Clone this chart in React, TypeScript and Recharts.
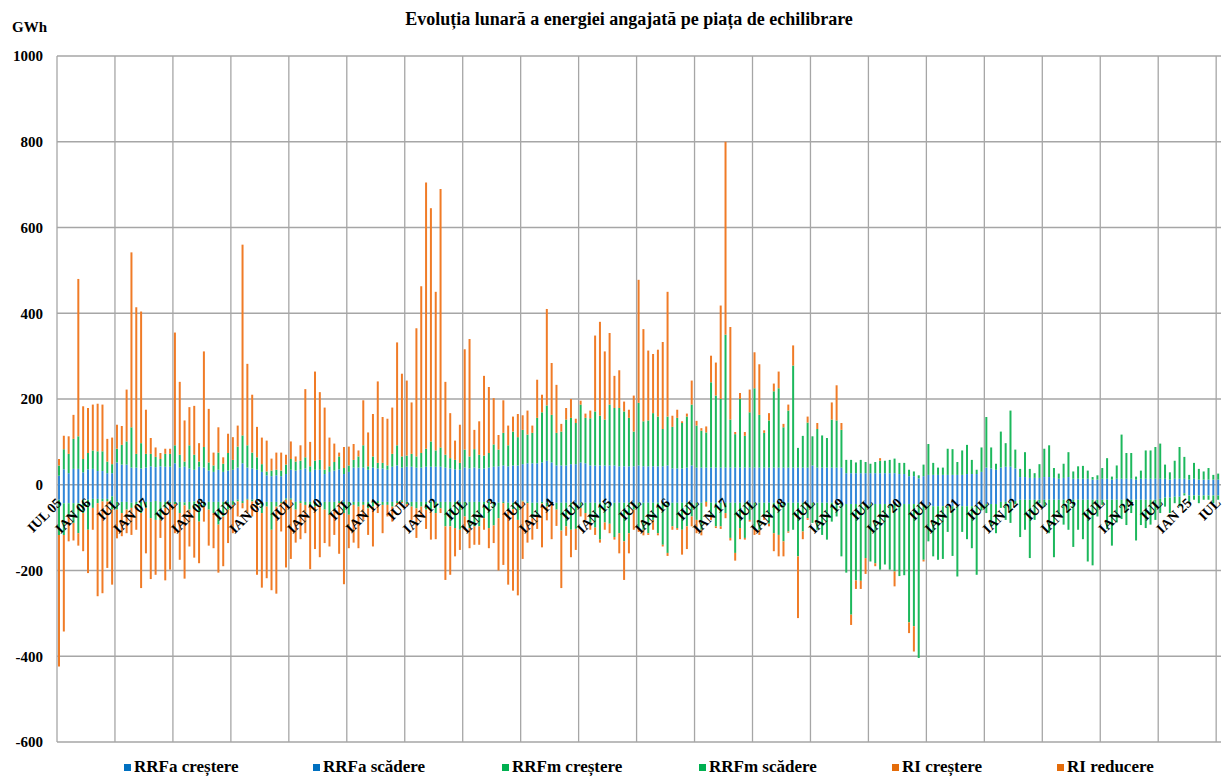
import { BarChart, Bar, XAxis, YAxis, CartesianGrid } from 'recharts';

// lunar, iul 2005 - iul 2025 (241 luni); o eticheta la 6 luni
const tickLabels = [
  'IUL 05', 'IAN 06', 'IUL', 'IAN 07', 'IUL', 'IAN 08', 'IUL', 'IAN 09', 'IUL', 'IAN 10', 'IUL',
  'IAN 11', 'IUL', 'IAN 12', 'IUL', 'IAN 13', 'IUL', 'IAN 14', 'IUL', 'IAN 15', 'IUL', 'IAN 16',
  'IUL', 'IAN 17', 'IUL', 'IAN 18', 'IUL', 'IAN 19', 'IUL', 'IAN 20', 'IUL', 'IAN 21', 'IUL',
  'IAN 22', 'IUL', 'IAN 23', 'IUL', 'IAN 24', 'IUL', 'IAN 25', 'IUL',
];

const yTicks = [-600, -400, -200, 0, 200, 400, 600, 800, 1000];

// GWh
const rrfaCrestere = [
  21, 36, 27, 37, 37, 29, 36, 37, 32, 32, 27, 27, 52, 47, 47, 40, 40, 38, 40, 43, 41, 43, 42, 42, 50, 40, 42, 38, 35, 42, 40,
  33, 30, 35, 30, 33, 35, 40, 50, 40, 38, 35, 30, 22, 20, 22, 20, 25, 35, 33, 35, 38, 30, 35, 35, 25, 30, 33, 36, 25, 30,
  40, 40, 40, 35, 40, 38, 38, 35, 42, 45, 40, 42, 42, 40, 40, 42, 42, 42, 42, 40, 38, 36, 35, 40, 38, 40, 38, 38, 40, 42,
  43, 45, 43, 45, 45, 48, 50, 50, 50, 52, 56, 52, 45, 45, 45, 48, 48, 52, 50, 45, 45, 45, 45, 45, 45, 43, 43, 43, 43, 45,
  43, 43, 43, 43, 43, 45, 38, 38, 38, 40, 45, 40, 40, 40, 40, 40, 40, 40, 40, 40, 40, 40, 40, 40, 40, 40, 40, 40, 40, 40,
  40, 40, 40, 40, 40, 45, 40, 40, 40, 40, 40, 40, 27, 27, 27, 27, 27, 27, 27, 27, 27, 27, 27, 25, 25, 20, 20, 15, 20, 23,
  23, 23, 23, 23, 23, 23, 23, 25, 25, 25, 30, 40, 38, 35, 40, 42, 42, 38, 18, 18, 16, 16, 16, 18, 18, 16, 14, 16, 18, 14,
  14, 14, 14, 12, 12, 14, 14, 12, 14, 14, 14, 14, 12, 14, 14, 14, 14, 14, 14, 12, 14, 14, 14, 12, 14, 12, 12, 12, 12, 12,
];

const rrfmCrestere = [
  24, 47, 45, 70, 76, 31, 38, 43, 46, 46, 27, 21, 32, 46, 54, 94, 32, 59, 32, 29, 24, 17, 30, 30, 42, 30, 12, 54, 35, 12, 48,
  19, 15, 40, 19, 41, 23, 49, 65, 52, 37, 29, 18, 9, 13, 13, 13, 22, 25, 21, 21, 26, 13, 21, 23, 10, 13, 20, 30, 14, 15,
  18, 26, 52, 8, 26, 13, 13, 10, 30, 47, 26, 26, 30, 26, 34, 42, 59, 38, 45, 30, 24, 22, 16, 42, 28, 43, 32, 30, 34, 52,
  39, 76, 49, 79, 66, 80, 67, 71, 106, 117, 129, 111, 76, 79, 107, 108, 96, 135, 106, 110, 126, 116, 107, 142, 134, 136, 128, 113, 81, 146,
  105, 107, 124, 116, 87, 114, 97, 118, 106, 119, 142, 98, 86, 82, 199, 168, 160, 310, 112, 78, 160, 74, 129, 185, 123, 81, 110, 178, 185, 94,
  133, 238, 46, 74, 105, 68, 90, 75, 69, 112, 110, 88, 31, 31, 25, 31, 26, 22, 26, 29, 29, 31, 34, 26, 26, 15, 11, 7, 27, 72,
  28, 17, 17, 61, 60, 30, 57, 68, 33, 10, 57, 118, 49, 14, 84, 55, 131, 44, 19, 58, 21, 11, 32, 66, 74, 23, 12, 33, 58, 17,
  29, 30, 19, 6, 10, 25, 48, 7, 31, 103, 60, 60, 7, 19, 66, 66, 74, 82, 33, 17, 42, 74, 51, 11, 37, 25, 19, 27, 11, 14,
];

const riCrestere = [
  15, 31, 41, 56, 367, 123, 105, 107, 111, 109, 53, 62, 56, 44, 121, 408, 342, 307, 103, 37, 22, 14, 12, 12, 263, 170, 96, 89, 114, 43, 223,
  125, 30, 59, 15, 45, 53, 49, 445, 190, 135, 71, 62, 72, 28, 40, 42, 23, 41, 12, 36, 159, 57, 208, 158, 145, 67, 43, 9, 49, 44,
  37, 14, 105, 79, 99, 190, 107, 109, 108, 240, 193, 175, 120, 299, 389, 621, 544, 370, 603, 170, 105, 45, 89, 234, 274, 45, 78, 186, 154, 108,
  34, 76, 46, 35, 54, 34, 56, 17, 89, 41, 225, 121, 112, 18, 27, 44, 10, 9, 10, 18, 177, 219, 159, 167, 75, 88, 23, 19, 84, 287,
  215, 163, 138, 156, 203, 291, 26, 19, 4, 7, 56, 11, 6, 14, 62, 77, 218, 450, 216, 5, 14, 9, 53, 84, 118, 6, 17, 18, 39, 8,
  14, 47, 0, 0, 14, 0, 14, 0, 0, 40, 82, 16, 0, 0, 0, 0, 0, 0, 0, 6, 0, 0, 0, 0, 0, 0, 0, 0, 0, 0,
  0, 0, 0, 0, 0, 0, 0, 0, 0, 0, 0, 0, 0, 0, 0, 0, 0, 0, 0, 0, 0, 0, 0, 0, 0, 0, 0, 0, 0, 0,
  0, 0, 0, 0, 0, 0, 0, 0, 0, 0, 0, 0, 0, 0, 0, 0, 0, 0, 0, 0, 0, 0, 0, 0, 0, 0, 0, 0, 0, 0,
];

const rrfaScadere = [
  -35, -43, -43, -43, -43, -35, -35, -33, -33, -33, -33, -27, -40, -40, -40, -42, -40, -40, -40, -40, -38, -40, -40, -40, -40, -40, -41, -40, -39, -40, -40,
  -40, -40, -40, -40, -40, -38, -35, -38, -33, -35, -40, -40, -40, -40, -40, -40, -32, -32, -40, -38, -40, -40, -40, -40, -40, -40, -40, -38, -40, -40,
  -40, -40, -40, -40, -40, -38, -40, -40, -40, -38, -36, -40, -40, -40, -40, -40, -40, -40, -40, -40, -40, -40, -40, -40, -40, -40, -40, -40, -40, -40,
  -42, -40, -42, -42, -42, -37, -40, -42, -42, -40, -42, -40, -42, -42, -42, -42, -42, -42, -42, -42, -42, -42, -42, -42, -42, -42, -42, -42, -42, -42,
  -42, -42, -42, -42, -42, -42, -42, -42, -42, -42, -42, -42, -42, -38, -42, -42, -42, -42, -42, -42, -42, -42, -42, -42, -42, -42, -42, -42, -42, -42,
  -42, -42, -42, -42, -42, -42, -42, -42, -42, -42, -42, -42, -45, -45, -45, -45, -45, -45, -45, -45, -45, -45, -45, -45, -45, -45, -45, -45, -45, -48,
  -50, -50, -50, -50, -50, -50, -50, -50, -50, -50, -45, -45, -45, -45, -40, -40, -40, -38, -35, -35, -35, -35, -35, -35, -35, -35, -35, -35, -35, -35,
  -35, -35, -35, -35, -35, -35, -35, -35, -35, -35, -35, -35, -35, -35, -35, -35, -35, -33, -30, -30, -28, -28, -20, -25, -25, -25, -25, -25, -25, -25,
];

const rrfmScadere = [
  -82, -74, -31, -46, -70, -31, -70, -21, -10, -6, -6, -31, -18, -26, -18, -12, -7, -26, -14, -38, -44, -42, -14, -3, -5, -26, -7, -18, -18, -46, -11,
  -18, -26, -53, -34, -18, -9, -4, -5, -2, -4, -7, -26, -11, -65, -11, -3, -3, -3, -18, -5, -7, -11, -11, -7, -18, -30, -22, -5, -26, -30,
  -7, -11, -7, -15, -11, -5, -7, -7, -11, -5, -4, -5, -11, -15, -11, -18, -22, -26, -15, -57, -57, -61, -65, -34, -61, -57, -57, -38, -61, -55,
  -36, -3, -20, -15, -40, -2, -3, -36, -32, -4, -9, -4, -16, -65, -55, -63, -61, -12, -24, -46, -58, -86, -46, -49, -80, -71, -90, -71, -16, -58,
  -63, -71, -40, -71, -98, -117, -55, -59, -63, -55, -32, -40, -63, -2, -32, -55, -55, -24, -82, -117, -59, -82, -40, -63, -63, -32, -49, -71, -75, -90,
  -67, -63, -125, -67, -36, -47, -63, -75, -86, -44, -32, -125, -160, -258, -178, -179, -126, -134, -138, -153, -141, -153, -157, -168, -166, -276, -285, -359, -130, -84,
  -117, -125, -123, -60, -116, -164, -60, -77, -98, -160, -15, -21, -52, -68, -14, -42, -49, -7, -87, -70, -136, -47, -8, -17, -78, -134, -39, -58, -70, -110,
  -70, -92, -144, -153, -39, -12, -68, -107, -53, -45, -59, -31, -95, -59, -66, -58, -47, -33, -21, -36, -15, -23, -5, -14, -10, -18, -10, -10, -18, -10,
];

const riReducere = [
  -307, -225, -58, -41, -29, -89, -101, -51, -217, -214, -155, -175, -67, -54, -55, -63, -58, -175, -106, -142, -128, -42, -169, -155, -68, -109, -171, -86, -113, -97, -35,
  -84, -82, -112, -116, -78, -66, -35, -12, -31, -35, -163, -174, -167, -141, -203, -66, -158, -138, -77, -84, -66, -146, -99, -122, -78, -74, -55, -118, -166, -78,
  -88, -97, -35, -62, -93, -23, -66, -27, -35, -4, -3, -6, -31, -69, -23, -45, -66, -61, -11, -125, -113, -66, -47, -31, -47, -43, -43, -27, -47, -41,
  -122, -144, -171, -190, -176, -134, -92, -50, -29, -102, -32, -83, -38, -134, -22, -64, -49, -20, -17, -17, -17, -7, -17, -22, -6, -47, -90, -47, -47, -10,
  -13, -4, -23, -5, -4, -7, -8, -4, -58, -53, -23, -31, -13, -11, -8, -4, -6, -12, -6, -18, -26, -4, -4, -12, -12, -8, -6, -42, -50, -35,
  -3, 0, -144, -18, -4, 0, 0, 0, 0, 0, 0, 0, 0, -24, -20, -19, -37, 0, -7, 0, 0, 0, -35, 0, 0, -25, -59, 0, -4, 0,
  0, 0, 0, 0, 0, 0, 0, 0, 0, 0, 0, 0, 0, 0, 0, 0, 0, 0, 0, 0, 0, 0, 0, 0, 0, 0, 0, 0, 0, 0,
  0, 0, 0, 0, 0, 0, 0, 0, 0, 0, 0, 0, 0, 0, 0, 0, 0, 0, 0, 0, 0, 0, 0, 0, 0, 0, 0, 0, 0, 0,
];

const BLUE = '#2f86d8';
const GREEN = '#1cb85c';
const ORANGE = '#f07b26';

const series = [
  { key: 'rrfaCrestere', name: 'RRFa creștere', color: BLUE },
  { key: 'rrfmCrestere', name: 'RRFm creștere', color: GREEN },
  { key: 'riCrestere', name: 'RI creștere', color: ORANGE },
  { key: 'rrfaScadere', name: 'RRFa scădere', color: BLUE },
  { key: 'rrfmScadere', name: 'RRFm scădere', color: GREEN },
  { key: 'riReducere', name: 'RI reducere', color: ORANGE },
];

const legendOrder = [
  { name: 'RRFa creștere', color: '#0070c0', left: 124 },
  { name: 'RRFa scădere', color: '#0070c0', left: 313 },
  { name: 'RRFm creștere', color: '#00b050', left: 502 },
  { name: 'RRFm scădere', color: '#00b050', left: 699 },
  { name: 'RI creștere', color: '#e46c0a', left: 892 },
  { name: 'RI reducere', color: '#e46c0a', left: 1057 },
];

const data = rrfaCrestere.map((_, i) => {
  const m = 6 + i;
  return {
    key: `${2005 + Math.floor(m / 12)}-${(m % 12) + 1}`,
    label: i % 6 === 0 ? tickLabels[i / 6] : '',
    rrfaCrestere: rrfaCrestere[i],
    rrfmCrestere: rrfmCrestere[i],
    riCrestere: riCrestere[i],
    rrfaScadere: rrfaScadere[i],
    rrfmScadere: rrfmScadere[i],
    riReducere: riReducere[i],
  };
});

const FONT = '"Liberation Serif", "Times New Roman", serif';
const W = 1222;
const H = 776;
const MARGIN = { top: 56, right: 1, bottom: 33, left: 7 };
const PLOT_H = H - MARGIN.top - MARGIN.bottom - 1;
// etichetele lunilor stau pe linia de zero, ca in Excel
const ZERO_Y = MARGIN.top + (PLOT_H * 1000) / 1600;

// eslint-disable-next-line @typescript-eslint/no-explicit-any
function MonthTick(props: any) {
  const { x, payload } = props;
  const label = data[payload.index]?.label;
  if (!label) return null;
  const tx = x + 3;
  const ty = ZERO_Y + 19;
  return (
    <g transform={`translate(${tx}, ${ty}) rotate(-45)`}>
      <text x={0} y={0} textAnchor="end" fontSize={14} fontWeight="bold" fontFamily={FONT} fill="#000">
        {label}
      </text>
    </g>
  );
}

export default function App() {
  return (
    <div style={{ position: 'absolute', left: 0, top: 0, width: W, height: H, background: '#fff', fontFamily: FONT }}>
      <div
        style={{
          position: 'absolute',
          top: 9,
          left: 0,
          width: 1258,
          textAlign: 'center',
          fontSize: 18,
          fontWeight: 'bold',
        }}
      >
        Evoluția lunară a energiei angajată pe piața de echilibrare
      </div>
      <div style={{ position: 'absolute', top: 19, left: 12, fontSize: 15, fontWeight: 'bold' }}>GWh</div>
      <BarChart
        width={W}
        height={H}
        data={data}
        stackOffset="sign"
        barSize={2}
        margin={MARGIN}
      >
        <CartesianGrid
          stroke="#a6a6a6"
          strokeWidth={1.3}
          // eslint-disable-next-line @typescript-eslint/no-explicit-any
          verticalCoordinatesGenerator={({ offset }: any) =>
            tickLabels
              .filter((_, i) => i % 2 === 0)
              .map((_, i) => offset.left + (i * 12 * offset.width) / data.length)
          }
        />
        <XAxis
          dataKey="key"
          interval={0}
          height={1}
          tickLine={false}
          axisLine={false}
          tick={<MonthTick />}
        />
        <YAxis
          domain={[-600, 1000]}
          ticks={yTicks}
          interval={0}
          width={50}
          tickLine={false}
          axisLine={false}
          tickSize={0}
          tickMargin={14}
          tick={{ fontSize: 15, fontWeight: 'bold', fill: '#000', fontFamily: FONT }}
        />
        {series.map((s) => (
          <Bar
            key={s.key}
            dataKey={s.key}
            name={s.name}
            stackId="s"
            fill={s.color}
            isAnimationActive={false}
          />
        ))}
      </BarChart>
      {legendOrder.map((l) => (
        <div
          key={l.name}
          style={{
            position: 'absolute',
            top: 757,
            left: l.left,
            display: 'flex',
            alignItems: 'center',
            fontSize: 17,
            fontWeight: 'bold',
            whiteSpace: 'nowrap',
          }}
        >
          <span style={{ display: 'inline-block', width: 7, height: 7, background: l.color, marginRight: 3 }} />
          {l.name}
        </div>
      ))}
    </div>
  );
}
